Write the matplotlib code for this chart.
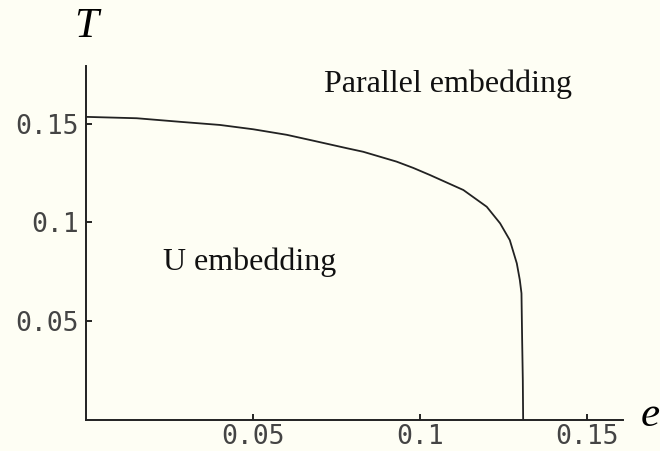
import matplotlib.pyplot as plt
import matplotlib as mpl

# phase boundary
e_vals = [0.0, 0.0152, 0.0281, 0.0401, 0.0501, 0.0601, 0.0681, 0.0781, 0.0830,
          0.0880, 0.0930, 0.0980, 0.1030, 0.1130, 0.1200, 0.1240, 0.1269, 0.1290,
          0.1299, 0.1304, 0.1305, 0.1306, 0.1308, 0.1309]
T_vals = [0.1535, 0.1528, 0.1510, 0.1494, 0.1472, 0.1444, 0.1414, 0.1376, 0.1358,
          0.1333, 0.1308, 0.1276, 0.1240, 0.1164, 0.1079, 0.0995, 0.0910, 0.0792,
          0.0708, 0.0640, 0.0520, 0.0403, 0.0200, 0.0]

x_ticks = [0.05, 0.1, 0.15]
x_labels = ['0.05', '0.1', '0.15']
y_ticks = [0.05, 0.1, 0.15]
y_labels = ['0.05', '0.1', '0.15']

bg = '#fefef4'
mpl.rcParams.update({
    "xtick.direction": "in", "ytick.direction": "in",
    "xtick.major.size": 4, "ytick.major.size": 4,
    "xtick.major.width": 1.2, "ytick.major.width": 1.2,
})

fig = plt.figure(figsize=(6.6, 4.51), dpi=100, facecolor=bg)
ax = fig.add_axes([86 / 660, 1 - 419.5 / 451, (623 - 86) / 660, (419.5 - 66) / 451])
ax.set_facecolor(bg)

ax.plot(e_vals, T_vals, color='#222222', lw=1.3, solid_joinstyle='round')

ax.set_xlim(0, 0.1608)
ax.set_ylim(0, 0.1793)
for s in ['top', 'right']:
    ax.spines[s].set_visible(False)
for s in ['left', 'bottom']:
    ax.spines[s].set_linewidth(1.4)
    ax.spines[s].set_color('#222222')

tick_font = dict(family='DejaVu Sans Mono', size=19, color='#444444')
ax.set_xticks(x_ticks)
ax.set_xticklabels(x_labels, **tick_font)
ax.set_yticks(y_ticks)
ax.set_yticklabels(y_labels, **tick_font)
ax.tick_params(axis='x', pad=3)
ax.tick_params(axis='y', pad=5)

# axis labels placed like Mathematica's AxesLabel
fig.text(86 / 660, 1 - 27 / 451, 'T', family='Liberation Serif', style='italic',
         size=31, ha='center', va='center')
fig.text(650 / 660, 1 - 416 / 451, 'e', family='Liberation Serif', style='italic',
         size=31, ha='center', va='center')

ax.text(448 / 660, 1 - 84 / 451, 'Parallel embedding', transform=fig.transFigure,
        family='Liberation Serif', size=23, ha='center', va='center', color='#111111')
ax.text(250 / 660, 1 - 262 / 451, 'U embedding', transform=fig.transFigure,
        family='Liberation Serif', size=23, ha='center', va='center', color='#111111')

fig.savefig('out.png', dpi=100, facecolor=bg)
